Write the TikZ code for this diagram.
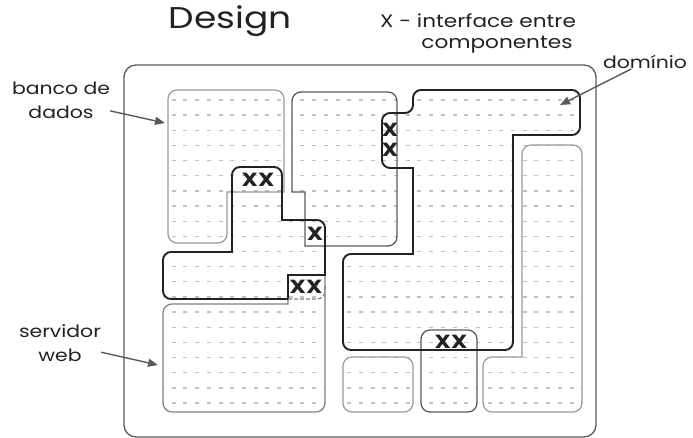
\documentclass[tikz,border=0pt]{standalone}
\usepackage{fontspec}
\setmainfont{Poppins}
\newfontfamily\labelfont{Poppins}[FakeStretch=1.2]
\usetikzlibrary{arrows.meta}

\definecolor{lightline}{HTML}{9A9A9A}
\definecolor{midline}{HTML}{5A5A5A}
\definecolor{darkline}{HTML}{222222}
\definecolor{gridgray}{HTML}{C2C2C2}

\tikzset{
  outerbox/.style={draw=midline, line width=1.3pt, rounded corners=12pt},
  partline/.style={draw=lightline, line width=1.2pt},
  partdark/.style={draw=midline, line width=1.3pt},
  domline/.style={draw=darkline, line width=1.9pt},
  gridrow/.style={draw=gridgray, line width=1.3pt, dash pattern=on 4pt off 7.7pt},
  iface/.style={font=\labelfont\fontsize{19}{19}\selectfont\bfseries, text=darkline, inner sep=0pt},
  tag/.style={font=\labelfont\fontsize{17}{24}\selectfont, text=darkline, align=center, inner sep=0pt},
  pointer/.style={-{Triangle[length=10pt,width=8pt]}, draw=midline, line width=1.4pt},
}

% dashed rows that fill every component
\newcommand{\gridrows}{%
  \foreach \k in {0,...,20}
    \draw[gridrow] (160,{100+15.15*\k}) -- (600,{100+15.15*\k});}

\begin{document}
\begin{tikzpicture}[x=1pt,y=-1pt]
\useasboundingbox (0,0) rectangle (693,438);

% outer box
\draw[outerbox] (124,65) rectangle (596,437);

% component outlines
\path[save path=\bancoA] (168,160) [rounded corners=9pt] -- (168,90) -- (284,90)
  [sharp corners] -- (284,192) -- (227,192) [rounded corners=9pt] -- (227,243) -- (168,243) -- cycle;
\path[save path=\compB] (397,160) [rounded corners=9pt] -- (397,246) [sharp corners] -- (305,246)
  -- (305,192) -- (292,192) [rounded corners=9pt] -- (292,92) -- (397,92) -- cycle;
\path[save path=\compC] (258,167) [rounded corners=8pt] -- (282,167) [sharp corners] -- (282,220)
  [rounded corners=8pt] -- (325,220) [sharp corners] -- (325,275) -- (288,275) -- (288,299)
  [rounded corners=8pt] -- (163,299) -- (163,252) [sharp corners] -- (232,252)
  [rounded corners=8pt] -- (232,167) -- cycle;
\path[save path=\servD] (163,360) [rounded corners=9pt] -- (163,304) [sharp corners] -- (288,304)
  -- (288,275) -- (325,275) [rounded corners=9pt] -- (325,412) -- (163,412) -- cycle;
\path[save path=\domE] (382,140) [rounded corners=8pt] -- (382,113) -- (413,113) -- (413,90)
  -- (580,90) -- (580,135) [sharp corners] -- (513,135) [rounded corners=8pt] -- (513,350)
  -- (343,350) -- (343,254) [sharp corners] -- (413,254) -- (413,168) [rounded corners=8pt]
  -- (382,168) -- cycle;
\path[save path=\compF] (522,250) [rounded corners=9pt] -- (522,145) -- (582,145) -- (582,412)
  -- (483,412) -- (483,357) [sharp corners] -- (522,357) -- cycle;
\path[save path=\compG] [rounded corners=9pt] (343,357) rectangle (413,412);
\path[save path=\compH] [rounded corners=9pt] (421,330) rectangle (477,412);

\foreach \p in {\bancoA,\compB,\compC,\servD,\domE,\compF,\compG,\compH}{
  \begin{scope}
    \clip[use path=\p];
    \gridrows
  \end{scope}
}

\draw[partline, use path=\bancoA];
\draw[partdark, use path=\compB];
\draw[partline, draw=gray, use path=\servD];
\draw[partline, use path=\compF];
\draw[partline, use path=\compG];
\draw[partdark, use path=\compH];
\draw[domline, use path=\compC];
\draw[domline, use path=\domE];
\draw[draw=gray, line width=1.2pt, dash pattern=on 4pt off 2pt]
  (288,299) [rounded corners=8pt] -- (325,299) -- (325,284);

% interfaces
\node[iface] (xx1) at (258,180) {XX};
\node[iface] (x2) at (315,234) {X};
\node[iface] (xx3) at (306,287) {XX};
\node[iface] (x4) at (390,130) {X};
\node[iface] (x5) at (390,150) {X};
\node[iface] (xx6) at (451,342) {XX};

% labels
\node[tag, font=\labelfont\fontsize{30}{30}\selectfont] (design) at (230,21) {Design};
\node[tag, font=\labelfont\fontsize{18}{24}\selectfont] (iface) at (478,21) {X - interface entre};
\node[tag, font=\labelfont\fontsize{18}{24}\selectfont] (comp) at (497,45) {componentes};
\node[tag] (banco) at (61,100) {banco de\\dados};
\node[tag] (serv) at (60,343) {servidor\\web};
\node[tag] (dom) at (645,62) {domínio};

\coordinate (bancotip) at (165,123);
\coordinate (servtip) at (158,365);
\coordinate (domtip) at (560,105);
\draw[pointer] (banco) -- (bancotip);
\draw[pointer] (serv) -- (servtip);
\draw[pointer] (dom) -- (domtip);
\end{tikzpicture}
\end{document}
